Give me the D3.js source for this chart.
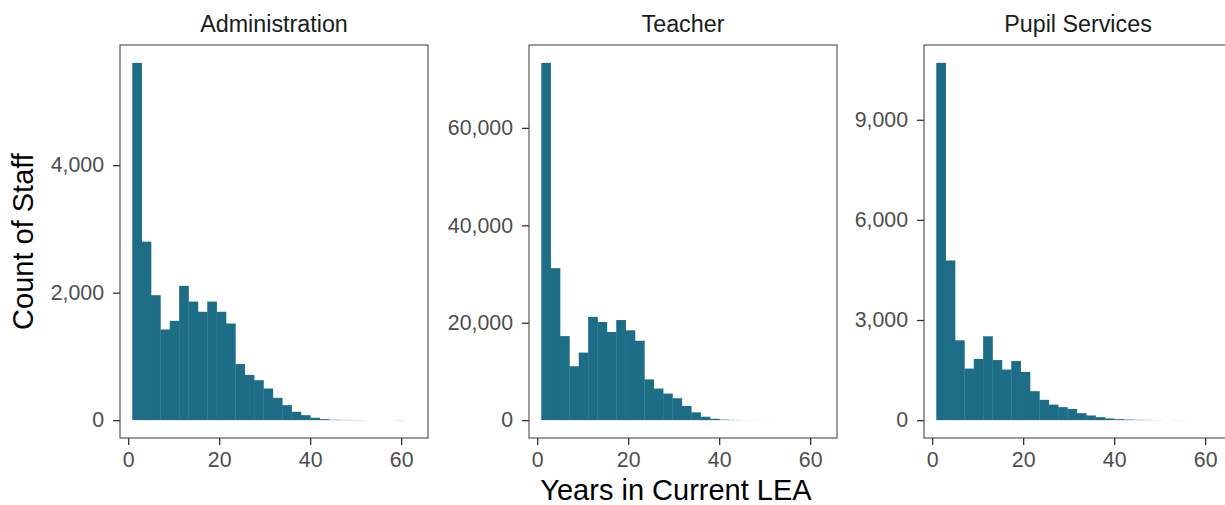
<!DOCTYPE html>
<html>
<head>
<meta charset="utf-8">
<script src="https://cdn.jsdelivr.net/npm/d3@7"></script>
<style>
  html, body { margin: 0; padding: 0; background: #ffffff; }
  svg { display: block; }
  text { font-family: "Liberation Sans", Arial, Helvetica, sans-serif; }
</style>
</head>
<body>
<svg id="chart" width="1225" height="505"></svg>
<script>
// ---- data ----
const panels = ["Administration", "Teacher", "Pupil Services"];
const binStart = 0.9;      // left edge of first bin (years)
const binWidth = 2.06;     // years per bin (30 bins)
const adminCounts = [5605, 2800, 1960, 1422, 1558, 2107, 1860, 1700, 1860, 1700,
                     1516, 880, 710, 627, 497, 350, 235, 131, 78, 37,
                     16, 6, 4, 3, 2, 0, 0, 0, 2, 0];
const teacherCounts = [73350, 31200, 17250, 11065, 13870, 21200, 20150, 18100, 20550, 18440,
                       16300, 8360, 6490, 5460, 4500, 2900, 1600, 700, 280, 100,
                       40, 20, 10, 5, 3, 2, 1, 1, 0, 0];
const pupilCounts = [10705, 4784, 2392, 1545, 1834, 2512, 1800, 1515, 1774, 1445,
                     867, 608, 465, 390, 335, 210, 140, 90, 50, 30,
                     18, 10, 6, 3, 0, 2, 1, 0, 0, 0];
const xTicks = [0, 20, 40, 60];
const yTicksAdmin = [0, 2000, 4000];
const yTicksTeacher = [0, 20000, 40000, 60000];
const yTicksPupil = [0, 3000, 6000, 9000];
const xTitle = "Years in Current LEA";
const yTitle = "Count of Staff";

const seriesList = [adminCounts, teacherCounts, pupilCounts];
const yTickList = [yTicksAdmin, yTicksTeacher, yTicksPupil];

// ---- layout ----
const svg = d3.select("#chart");
const panelLefts = [120, 529, 924];
const panelW = 308;
const panelTop = 45, panelBottom = 438;
const barColor = "#1e6d86";
const tickColor = "#333333";
const labelColor = "#4d4d4d";

panels.forEach((name, i) => {
  const counts = seriesList[i];
  const x0 = panelLefts[i];
  const x = d3.scaleLinear().domain([-1.8, 65.9]).range([x0, x0 + panelW]);
  const ymax = d3.max(counts);
  const y = d3.scaleLinear().domain([-0.05 * ymax, 1.05 * ymax]).range([panelBottom, panelTop]);

  const g = svg.append("g");

  const clipId = "clip" + i;
  svg.append("clipPath").attr("id", clipId)
    .append("rect").attr("x", x0).attr("y", panelTop).attr("width", panelW).attr("height", panelBottom - panelTop);

  const bins = counts.map((c, k) => ({
    x0: binStart + k * binWidth,
    x1: binStart + (k + 1) * binWidth,
    c: c
  }));

  g.append("g").attr("clip-path", `url(#${clipId})`)
    .selectAll("rect").data(bins).join("rect")
    .attr("x", d => x(d.x0))
    .attr("width", d => x(d.x1) - x(d.x0) + 0.3)
    .attr("y", d => y(d.c))
    .attr("height", d => Math.max(0, y(0) - y(d.c)))
    .attr("fill", barColor);

  // panel border
  g.append("rect")
    .attr("x", x0).attr("y", panelTop)
    .attr("width", panelW).attr("height", panelBottom - panelTop)
    .attr("fill", "none").attr("stroke", "#4a4a4a").attr("stroke-width", 1.1);

  // x axis
  const xAxis = d3.axisBottom(x).tickValues(xTicks).tickSize(7).tickPadding(7).tickFormat(d3.format("d"));
  const xg = g.append("g").attr("transform", `translate(0,${panelBottom})`).call(xAxis);
  xg.select(".domain").remove();
  xg.selectAll(".tick line").attr("stroke", tickColor).attr("stroke-width", 1.3);
  xg.selectAll(".tick text").attr("fill", labelColor).attr("font-size", 21.3)
    .attr("font-family", "Liberation Sans, Arial, sans-serif");

  // y axis
  const yAxis = d3.axisLeft(y).tickValues(yTickList[i]).tickSize(7).tickPadding(9).tickFormat(d3.format(","));
  const yg = g.append("g").attr("transform", `translate(${x0},0)`).call(yAxis);
  yg.select(".domain").remove();
  yg.selectAll(".tick line").attr("stroke", tickColor).attr("stroke-width", 1.3);
  yg.selectAll(".tick text").attr("fill", labelColor).attr("font-size", 21.3)
    .attr("font-family", "Liberation Sans, Arial, sans-serif");

  // strip title
  g.append("text")
    .attr("x", x0 + panelW / 2).attr("y", 32)
    .attr("text-anchor", "middle")
    .attr("font-size", 23.3)
    .attr("fill", "#1a1a1a")
    .text(name);
});

// axis titles
svg.append("text")
  .attr("x", 676).attr("y", 500)
  .attr("text-anchor", "middle")
  .attr("font-size", 29)
  .attr("fill", "#000")
  .text(xTitle);

svg.append("text")
  .attr("transform", "translate(33,241.5) rotate(-90)")
  .attr("text-anchor", "middle")
  .attr("font-size", 29)
  .attr("fill", "#000")
  .text(yTitle);
</script>
</body>
</html>
